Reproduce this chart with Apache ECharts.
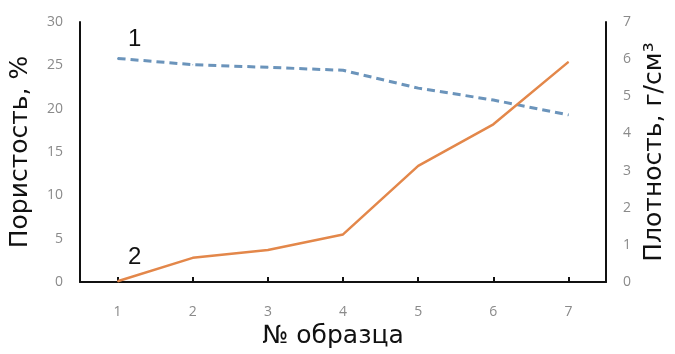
<!DOCTYPE html>
<html><head><meta charset="utf-8">
<script src="https://cdn.jsdelivr.net/npm/echarts@6/dist/echarts.min.js"></script>
<style>html,body{margin:0;padding:0;background:#fff}#c{width:675px;height:354px}</style>
</head><body><div id="c"></div>
<script>
const categories = ['1','2','3','4','5','6','7'];
const porosity = [0.1, 2.8, 3.7, 5.5, 13.4, 18.2, 25.4];
const density = [6.02, 5.85, 5.78, 5.70, 5.22, 4.90, 4.50];
const leftTicks = [0, 30, 5];
const rightTicks = [0, 7, 1];

const chart = echarts.init(document.getElementById('c'));
const fontTick = {color:'#8a8a8a', fontSize:14, fontFamily:'Open Sans'};
const nameFont = {fontSize:25, color:'#111', fontFamily:'DejaVu Sans'};
const lbl = (t, dy) => ({show:true, formatter:t, position:'top', offset:[17,dy], fontSize:24, color:'#111', fontFamily:'Liberation Sans'});
const densData = density.map((v,i)=> i===0 ? {value:v, label:lbl('1', -2)} : v);
const porData = porosity.map((v,i)=> i===0 ? {value:v, label:lbl('2', -6)} : v);
chart.setOption({
  animation:false,
  grid:{left:80, right:62, top:22, bottom:67},
  xAxis:{type:'category', data:categories, boundaryGap:true,
    name:'№ образца', nameLocation:'middle', nameGap:40,
    nameTextStyle:Object.assign({padding:[0,20,0,0]}, nameFont),
    axisLine:{lineStyle:{color:'#111', width:2}},
    axisTick:{show:true, alignWithLabel:true, inside:true, length:5, lineStyle:{color:'#111', width:2}},
    axisLabel:Object.assign({margin:23}, fontTick)},
  yAxis:[
    {type:'value', min:leftTicks[0], max:leftTicks[1], interval:leftTicks[2], position:'left',
     name:'Пористость, %', nameLocation:'middle', nameRotate:90, nameGap:47,
     nameTextStyle:nameFont,
     axisLine:{show:true, lineStyle:{color:'#111', width:2}},
     axisTick:{show:false}, splitLine:{show:false},
     axisLabel:Object.assign({margin:17}, fontTick)},
    {type:'value', min:rightTicks[0], max:rightTicks[1], interval:rightTicks[2], position:'right',
     name:'Плотность, г/см³', nameLocation:'middle', nameRotate:90, nameGap:30,
     nameTextStyle:nameFont,
     axisLine:{show:true, lineStyle:{color:'#111', width:2}},
     axisTick:{show:false}, splitLine:{show:false},
     axisLabel:Object.assign({margin:17}, fontTick)}
  ],
  series:[
    {type:'line', name:'density', yAxisIndex:1, data:densData, symbol:'circle', symbolSize:1, showSymbol:true,
     itemStyle:{color:'#6b94bb'},
     lineStyle:{color:'#6b94bb', width:3, type:[8,5]}},
    {type:'line', name:'porosity', yAxisIndex:0, data:porData, symbol:'circle', symbolSize:1, showSymbol:true,
     itemStyle:{color:'#e3874a'},
     lineStyle:{color:'#e3874a', width:2.5}}
  ]
});
</script></body></html>
